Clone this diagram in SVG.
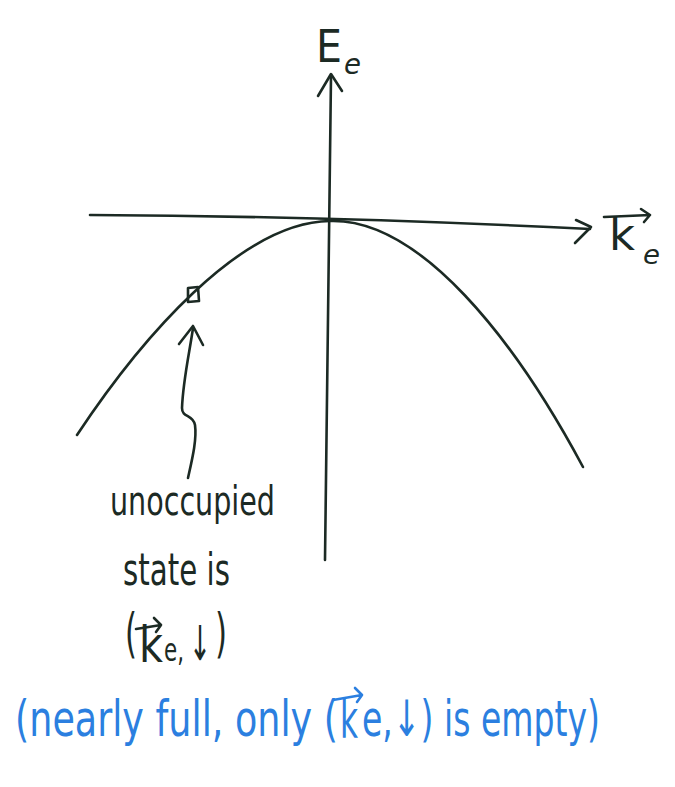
<svg xmlns="http://www.w3.org/2000/svg" width="675" height="787" viewBox="0 0 675 787">
<style>
.ink{fill:none;stroke:#1c2a24;stroke-width:2.6;stroke-linecap:round;stroke-linejoin:round}
.blue{fill:none;stroke:#2b7fe0;stroke-width:2.6;stroke-linecap:round;stroke-linejoin:round}
.t{font-family:'Liberation Sans Narrow','DejaVu Sans Condensed','Liberation Sans',sans-serif;fill:#1c2a24}
.tb{font-family:'Liberation Sans Narrow','DejaVu Sans Condensed','Liberation Sans',sans-serif;fill:#2b7fe0}
</style>
<rect width="675" height="787" fill="#ffffff"/>
<g id="axes">
<path class="ink" d="M331,76 Q327,320 325,560"/>
<path class="ink" d="M318,96 L331,74 L342,91"/>
<path class="ink" d="M90,215 Q330,216 590,229"/>
<path class="ink" d="M576,220 L591,227 L575,243"/>
</g>
<g id="curve">
<path class="ink" d="M77,435 C140,340 240,222 330,221 C420,218 515,340 583,467"/>
</g>
<g id="state">
<path class="ink" stroke-width="2" d="M188,288 L198,287 L199,301 L188,302 Z"/>
</g>
<g id="connectors">
<path class="ink" d="M193,328 C190,350 183,380 182,408 C182,418 193,414 195,425 C197,440 192,460 188,478"/>
<path class="ink" d="M179,344 L193,326 L203,345"/>
</g>
<g id="label-E">
<text class="t" y="62" font-size="44"><tspan x="316" textLength="26" lengthAdjust="spacingAndGlyphs">E</tspan><tspan x="344" y="74" font-size="28" font-style="italic" textLength="17" lengthAdjust="spacingAndGlyphs">e</tspan></text>
</g>
<g id="label-k">
<text class="t" y="250" font-size="44"><tspan x="609" textLength="26" lengthAdjust="spacingAndGlyphs">k</tspan><tspan x="643" y="264" font-size="26" font-style="italic" textLength="17" lengthAdjust="spacingAndGlyphs">e</tspan></text>
<path class="ink" d="M604,217 L650,215 M641,209 L650,215 L644,222"/>
</g>
<g id="note-black">
<text class="t" x="110" y="515" font-size="40" textLength="165" lengthAdjust="spacingAndGlyphs">unoccupied</text>
<text class="t" x="123" y="585" font-size="44" textLength="107" lengthAdjust="spacingAndGlyphs">state is</text>
<text class="t" y="660" font-size="50"><tspan x="125" y="652" font-size="54" textLength="12" lengthAdjust="spacingAndGlyphs">(</tspan><tspan x="139" y="662" textLength="24" lengthAdjust="spacingAndGlyphs">k</tspan><tspan x="164" y="661" font-size="32" textLength="20" lengthAdjust="spacingAndGlyphs">e,</tspan><tspan x="189" y="660" font-size="48" textLength="22" lengthAdjust="spacingAndGlyphs">↓</tspan><tspan x="215" y="652" font-size="54" textLength="12" lengthAdjust="spacingAndGlyphs">)</tspan></text>
<path class="ink" d="M136,629 L161,625 M154,618 L161,625 L156,632"/>
</g>
<g id="note-blue">
<text class="tb" y="736" font-size="50"><tspan x="15" textLength="323" lengthAdjust="spacingAndGlyphs">(nearly full, only (</tspan><tspan x="340" y="738" font-size="54" textLength="18" lengthAdjust="spacingAndGlyphs">k</tspan><tspan x="362" y="736" textLength="238" lengthAdjust="spacingAndGlyphs">e,↓) is empty)</tspan></text>
<path class="blue" d="M333,700 L362,695 M355,688 L362,695 L357,702"/>
</g>
</svg>
